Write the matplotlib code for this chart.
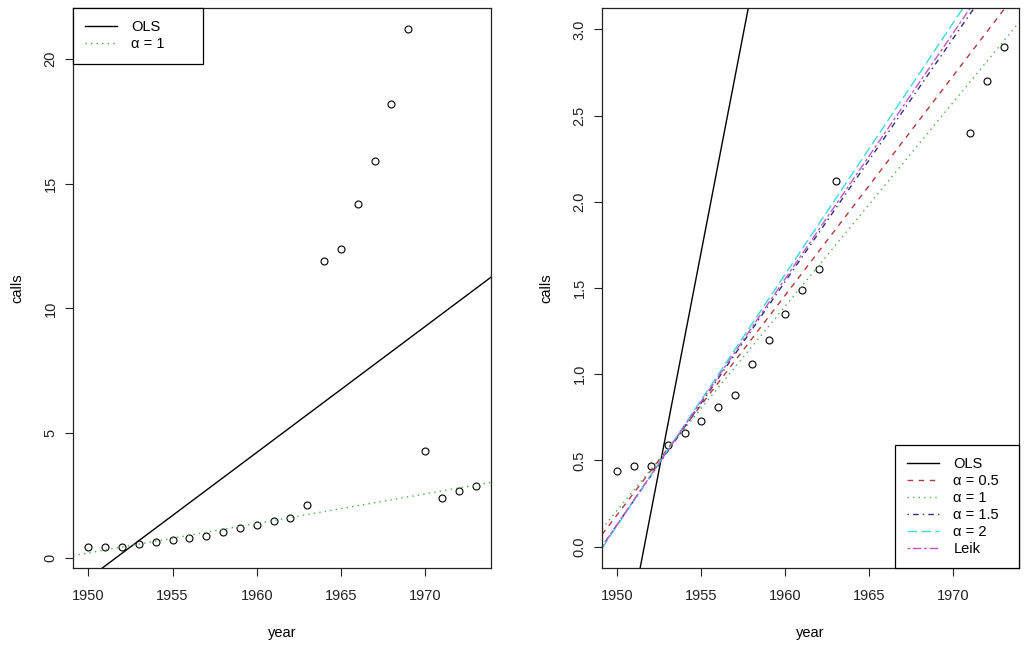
import matplotlib
matplotlib.use("Agg")
import matplotlib.pyplot as plt
from matplotlib.lines import Line2D
import numpy as np

plt.rcParams['font.family'] = ['Liberation Sans', 'DejaVu Sans']

# Belgian phone calls (tens of millions)
years = list(range(1950, 1974))
calls = [0.44, 0.47, 0.47, 0.59, 0.66, 0.73, 0.81, 0.88, 1.06, 1.20,
         1.35, 1.49, 1.61, 2.12, 11.9, 12.4, 14.2, 15.9, 18.2, 21.2,
         4.3, 2.4, 2.7, 2.9]

# fitted lines: value at 1950 and slope per year
fit_names = ["OLS", "α = 0.5", "α = 1", "α = 1.5", "α = 2", "Leik"]
fit_at_1950 = [-0.805, 0.187, 0.213, 0.130, 0.124, 0.131]
fit_slopes = [0.5041, 0.1272, 0.1182, 0.1409, 0.1457, 0.1424]
fit_colors = ["black", "#B03A3A", "#4CAF50", "#2E2E80", "#3FD8DD", "#C155C8"]
fit_dashes = [None, (4, 4), (1, 3), (1, 3, 4, 3), (7, 3), (2, 2, 6, 2)]

fs = 10.5
lw = 1.0


def style_axes(ax):
    ax.tick_params(direction='out', length=6, width=0.8, labelsize=fs,
                   colors='#222222')
    ax.tick_params(axis='x', pad=9)
    ax.tick_params(axis='y', labelrotation=90, pad=5)
    for lbl in ax.get_yticklabels():
        lbl.set_verticalalignment('center')
    for s in ax.spines.values():
        s.set_linewidth(0.9)
        s.set_color('#222222')
    ax.set_xlabel("year", fontsize=fs, labelpad=17)
    ax.set_ylabel("calls", fontsize=fs, labelpad=14)


def fit_style(i):
    kw = dict(color=fit_colors[i], lw=lw)
    if fit_dashes[i] is not None:
        kw['dashes'] = fit_dashes[i]
    return kw


def draw_fit(ax, i):
    ax.axline((1950, fit_at_1950[i]), slope=fit_slopes[i], **fit_style(i))


def add_legend(ax, idx, x0, y0, w, h):
    handles = [Line2D([], [], **fit_style(i)) for i in idx]
    labels = [fit_names[i] for i in idx]
    leg = ax.legend(handles, labels, loc='upper left', mode='expand',
                    bbox_to_anchor=(x0, y0, w, h), borderaxespad=0,
                    fontsize=fs, frameon=True, fancybox=False,
                    edgecolor='black', framealpha=1,
                    handlelength=2.15, handletextpad=1.0, borderpad=0.85,
                    labelspacing=0.2)
    leg.get_frame().set_linewidth(0.9)


fig = plt.figure(figsize=(10.24, 6.46), dpi=100)
ax1 = fig.add_axes([73 / 1024, 78 / 646, 418 / 1024, 560 / 646])
ax2 = fig.add_axes([602 / 1024, 78 / 646, 417 / 1024, 560 / 646])

xr = (years[0] - 0.92, years[-1] + 0.92)

# left panel: all data
ax1.plot(years, calls, 'o', mfc='none', mec='black', ms=5, mew=0.8)
draw_fit(ax1, 0)
draw_fit(ax1, 2)
ax1.set_xlim(*xr)
ax1.set_ylim(-0.39, 22.03)
ax1.set_xticks([1950, 1955, 1960, 1965, 1970])
ax1.set_yticks([0, 5, 10, 15, 20])
style_axes(ax1)
add_legend(ax1, [0, 2], 0, 0.905, 130 / 418, 0.095)

# right panel: zoom on the bulk of the data
ax2.plot(years, calls, 'o', mfc='none', mec='black', ms=5, mew=0.8)
for i in range(len(fit_names)):
    draw_fit(ax2, i)
ax2.set_xlim(*xr)
ax2.set_ylim(-0.124, 3.124)
ax2.set_xticks([1950, 1955, 1960, 1965, 1970])
ax2.set_yticks(np.arange(0, 3.01, 0.5))
ax2.set_yticklabels(["0.0", "0.5", "1.0", "1.5", "2.0", "2.5", "3.0"])
style_axes(ax2)
add_legend(ax2, range(len(fit_names)), 1 - 124 / 417, 0.0, 124 / 417, 123 / 560)

fig.savefig("out.png", dpi=100, facecolor='white')
